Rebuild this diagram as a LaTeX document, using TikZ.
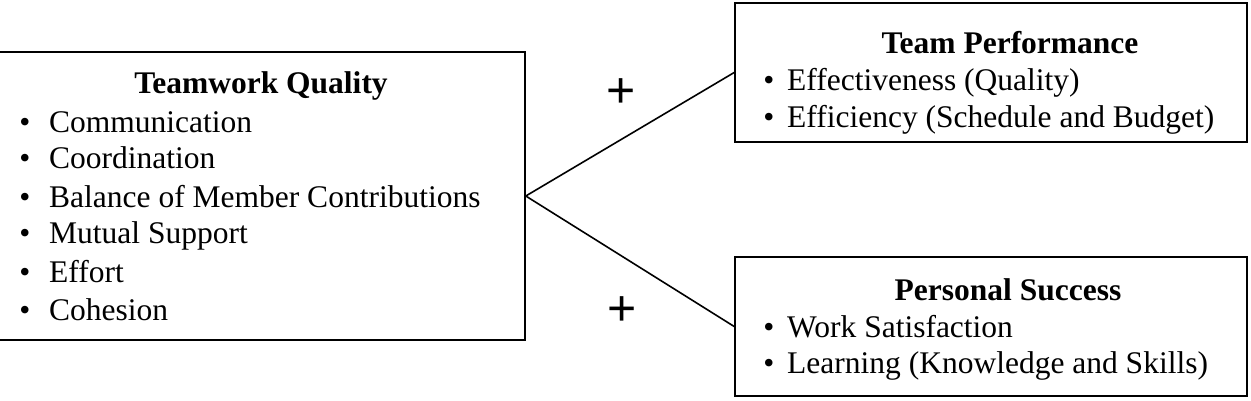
\documentclass[tikz,border=0pt]{standalone}
\usepackage{fontspec}
\setmainfont{Liberation Serif}
\newfontfamily\plusfont{Liberation Sans}
\begin{document}
\begin{tikzpicture}[x=1pt,y=-1pt,
  box/.style={draw=black,line width=1.6pt,rectangle,inner sep=0pt},
  txt/.style={anchor=base west,inner sep=0pt,font=\fontsize{31.5}{37}\selectfont},
  bul/.style={anchor=base,inner sep=0pt,font=\fontsize{31.5}{37}\selectfont},
  ttl/.style={anchor=base,inner sep=0pt,font=\fontsize{31.5}{37}\selectfont\bfseries},
  plus/.style={inner sep=0pt,font=\fontsize{50}{50}\plusfont},
  link/.style={line width=1.6pt}]
\useasboundingbox (0,0) rectangle (1251,400);
% boxes
\node[box,minimum width=535pt,minimum height=288pt] (tq) at (257.5,196) {};
\node[box,minimum width=512pt,minimum height=139pt] (tp) at (991,72.5) {};
\node[box,minimum width=512pt,minimum height=139pt] (ps) at (991,326.5) {};
% left box text
\node[ttl] (tqt) at (261,93) {Teamwork Quality};
\foreach \y/\t [count=\i] in {132/Communication,168/Coordination,207/Balance of Member Contributions,243/Mutual Support,282/Effort,320/Cohesion}{
  \node[bul] (tqb\i) at (25,\y) {•};
  \node[txt] (tqi\i) at (49,\y) {\t};
}
% top right text
\node[ttl] (tpt) at (1010,53) {Team Performance};
\foreach \y/\t [count=\i] in {90/Effectiveness (Quality),127/Efficiency (Schedule and Budget)}{
  \node[bul] (tpb\i) at (769,\y) {•};
  \node[txt] (tpi\i) at (787,\y) {\t};
}
% bottom right text
\node[ttl] (pst) at (1008,300) {Personal Success};
\foreach \y/\t [count=\i] in {337/Work Satisfaction,373/Learning\ (Knowledge and Skills)}{
  \node[bul] (psb\i) at (769,\y) {•};
  \node[txt] (psi\i) at (787,\y) {\t};
}
% connectors
\draw[link] (tq.east) -- (tp.west);
\draw[link] (tq.east) -- (ps.west);
% plus signs
\node[plus] (p1) at (621,93) {+};
\node[plus] (p2) at (622,311) {+};
\end{tikzpicture}
\end{document}
